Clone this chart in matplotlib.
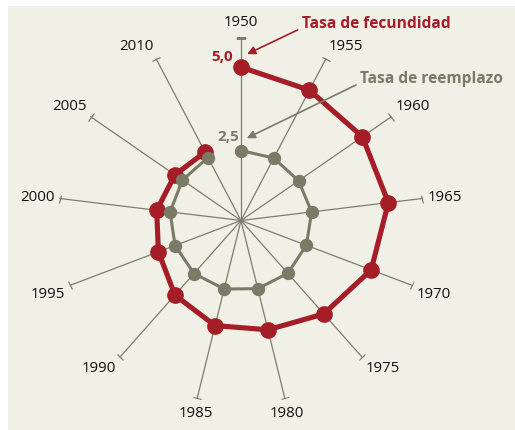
import numpy as np
import matplotlib
matplotlib.use("Agg")
import matplotlib.pyplot as plt
from matplotlib.markers import MarkerStyle
from matplotlib.transforms import Affine2D
from matplotlib.patches import Rectangle

# Data
years = ["1950", "1955", "1960", "1965", "1970", "1975", "1980",
         "1985", "1990", "1995", "2000", "2005", "2010"]
fecundidad = [5.00, 4.80, 4.81, 4.84, 4.54, 4.07, 3.67,
              3.53, 3.25, 2.88, 2.77, 2.62, 2.52]
reemplazo = [2.28, 2.30, 2.28, 2.32, 2.28, 2.30, 2.29,
             2.30, 2.31, 2.30, 2.33, 2.32, 2.32]

RED = "#a51d27"
GRAY = "#7a7a66"
SPOKE = "#7d7d6d"
BG = "#f0f0e7"
SPOKE_END = 5.95

plt.rcParams["font.family"] = ["Open Sans", "DejaVu Sans"]

W, H = 515, 430
fig = plt.figure(figsize=(W / 100, H / 100), dpi=100)
fig.patch.set_facecolor("white")
fig.patches.append(Rectangle((8 / W, 0), 1, (H - 6) / H, transform=fig.transFigure,
                             facecolor=BG, edgecolor="none", zorder=-10))

# center at (241, 220.5) px, radius 6 -> 184 px
R = 184
ax = fig.add_axes([(241 - R) / W, (H - 220.5 - R) / H, 2 * R / W, 2 * R / H],
                  projection="polar")
ax.set_zorder(5)
ax.set_theta_zero_location("N")
ax.set_theta_direction(-1)
ax.set_ylim(0, 6)
ax.patch.set_alpha(0)
ax.grid(False)
ax.set_xticks([])
ax.set_yticks([])
ax.spines["polar"].set_visible(False)

n = len(years)
theta = np.arange(n) * 2 * np.pi / n

# spokes with end caps and year labels
for i, t in enumerate(theta):
    ax.plot([t, t], [0, SPOKE_END], color=SPOKE, lw=0.9, zorder=1)
    cap = MarkerStyle("_", transform=Affine2D().rotate_deg(-np.degrees(t)))
    ax.plot([t], [SPOKE_END], marker=cap, ms=6.5, mew=0.9, color=SPOKE, zorder=1)
    s, c = np.sin(t), np.cos(t)
    ha = "left" if s > 0.3 else ("right" if s < -0.3 else "center")
    va = "bottom" if c > 0.3 else ("top" if c < -0.3 else "center")
    off = 6 if abs(c) > 0.9 else 4
    ax.annotate(years[i], xy=(t, SPOKE_END), xytext=(off * s, off * c),
                textcoords="offset points", ha=ha, va=va,
                fontsize=10.8, color="#111111", annotation_clip=False)

# series
ax.plot(theta, fecundidad, color=RED, lw=3.7, marker="o", ms=11,
        solid_capstyle="round", zorder=3, clip_on=False)
ax.plot(theta, reemplazo, color=GRAY, lw=2.2, marker="o", ms=8.6, zorder=4,
        clip_on=False)

# value labels
ax.annotate("5,0", xy=(theta[0], fecundidad[0]), xytext=(-5.8, 7.2),
            textcoords="offset points", ha="right", va="center",
            fontsize=11, fontweight="bold", color=RED)
ax.annotate("2,5", xy=(theta[0], reemplazo[0]), xytext=(-1.4, 9.9),
            textcoords="offset points", ha="right", va="center",
            fontsize=11, fontweight="bold", color=GRAY)

# series titles with arrows
ax.annotate("Tasa de fecundidad", xy=(np.radians(2.1), 5.43),
            xytext=(301.7, H - 24), textcoords="figure pixels",
            ha="left", va="center", fontsize=11.2, fontweight="bold", color=RED,
            annotation_clip=False,
            arrowprops=dict(arrowstyle="-|>", color=RED, lw=1.2,
                            mutation_scale=12, relpos=(0, 0.25),
                            shrinkA=1, shrinkB=0))
ax.annotate("Tasa de reemplazo", xy=(np.radians(4.0), 2.69),
            xytext=(360, H - 79), textcoords="figure pixels",
            ha="left", va="center", fontsize=11.2, fontweight="bold", color=GRAY,
            annotation_clip=False,
            arrowprops=dict(arrowstyle="-|>", color=GRAY, lw=1.2,
                            mutation_scale=12, relpos=(0, 0.25),
                            shrinkA=1, shrinkB=0))

fig.savefig("out.png", dpi=100, facecolor=fig.get_facecolor())
